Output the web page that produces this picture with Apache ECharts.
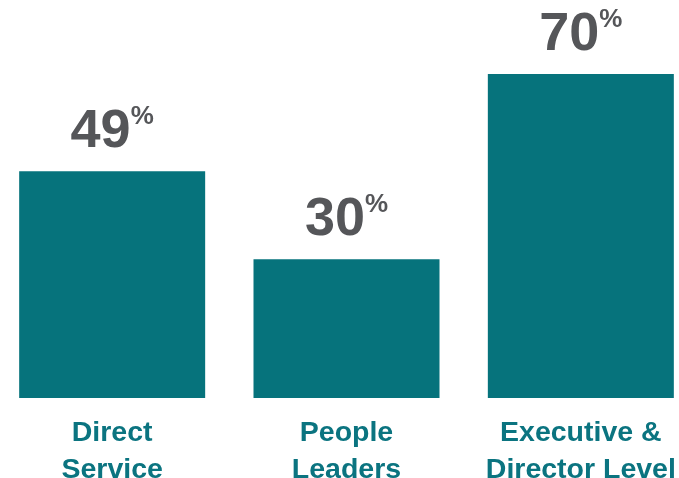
<!DOCTYPE html>
<html><head><meta charset="utf-8">
<script src="https://cdn.jsdelivr.net/npm/echarts@6/dist/echarts.min.js"></script>
<style>html,body{margin:0;padding:0;background:#fff}#c{width:679px;height:478px}</style>
</head><body><div id="c"></div>
<script>
const categories = ['Direct\nService', 'People\nLeaders', 'Executive &\nDirector Level'];
const values = [49, 30, 70];

const chart = echarts.init(document.getElementById('c'));
chart.setOption({
  animation: false,
  grid: { left: -5, right: -19, top: 74, bottom: 80, containLabel: false, outerBoundsMode: 'none' },
  xAxis: {
    type: 'category', data: categories,
    axisLine: { show: false }, axisTick: { show: false },
    axisLabel: {
      margin: 17, color: '#0B7480', fontFamily: 'Liberation Sans, Arial, sans-serif',
      fontWeight: 'bold', fontSize: 28.5, lineHeight: 37, interval: 0
    }
  },
  yAxis: { type: 'value', min: 0, max: 70, show: false, splitLine: { show: false } },
  series: [{
    type: 'bar', data: values, barWidth: 186,
    itemStyle: { color: '#06737C' },
    label: {
      show: true, position: 'top', distance: 11,
      formatter: p => '{n|' + p.value + '}{p|%}',
      rich: {
        n: { fontSize: 54, fontWeight: 'bold', color: '#555659', fontFamily: 'Liberation Sans, Arial, sans-serif', lineHeight: 56 },
        p: { fontSize: 26, fontWeight: 'bold', color: '#555659', fontFamily: 'Liberation Sans, Arial, sans-serif', verticalAlign: 'top', lineHeight: 56, padding: [0, 0, 18, 0] }
      }
    }
  }]
});
</script></body></html>
